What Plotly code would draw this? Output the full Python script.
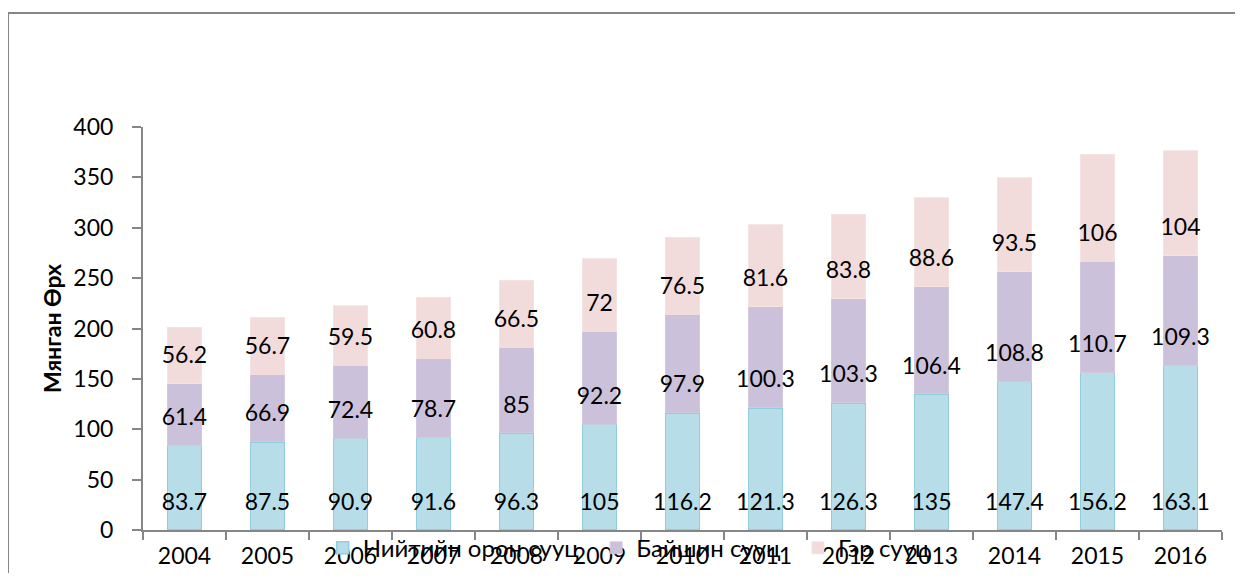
import plotly.graph_objects as go

# Өгөгдөл
years = ["2004", "2005", "2006", "2007", "2008", "2009", "2010",
         "2011", "2012", "2013", "2014", "2015", "2016"]
public_apts = [83.7, 87.5, 90.9, 91.6, 96.3, 105, 116.2, 121.3, 126.3, 135, 147.4, 156.2, 163.1]
houses = [61.4, 66.9, 72.4, 78.7, 85, 92.2, 97.9, 100.3, 103.3, 106.4, 108.8, 110.7, 109.3]
gers = [56.2, 56.7, 59.5, 60.8, 66.5, 72, 76.5, 81.6, 83.8, 88.6, 93.5, 106, 104]

series_names = ["Нийтийн орон сууц", "Байшин сууц", "Гэр сууц"]
y_ticks = [0, 50, 100, 150, 200, 250, 300, 350, 400]

FONT = "Lato, 'Noto Sans', sans-serif"
AXIS_COLOR = "#868686"
fills = ["#B7DDE8", "#CCC1DA", "#F2DCDB"]
edges = ["#93CDDD", "#D3CAE0", "#F5E3E2"]
edge_w = [1.5, 0.8, 0.8]

# label sits a fixed distance above the base of each segment ("inside base")
LABEL_OFFSET = 26

fig = go.Figure()

base = [0.0] * len(years)
for i, (name, vals, fc, ec, ew) in enumerate(zip(series_names, [public_apts, houses, gers], fills, edges, edge_w)):
    # a bit of extra room after each legend entry, like the source
    pad = "\u00a0\u00a0" if i < len(series_names) - 1 else ""
    fig.add_trace(go.Bar(
        x=years, y=vals, name=name + pad,
        marker=dict(color=fc, line=dict(color=ec, width=ew)),
    ))
    fig.add_trace(go.Scatter(
        x=years, y=[b + LABEL_OFFSET for b in base], mode="text",
        text=[f"{v:g}" for v in vals], textposition="middle center",
        textfont=dict(family=FONT, size=23, color="black"),
        showlegend=False, hoverinfo="skip", cliponaxis=False,
    ))
    base = [b + v for b, v in zip(base, vals)]

# frame around the chart (runs off the right/bottom edge like the source)
fig.add_shape(type="rect", xref="paper", yref="paper",
              x0=-0.1251, x1=1.06, y0=-0.3, y1=1.2829,
              line=dict(color=AXIS_COLOR, width=2), fillcolor="rgba(0,0,0,0)")

# page body adds an 8px margin, so the figure is a bit smaller than the window
fig.update_layout(
    width=1235, height=565,
    barmode="stack", bargap=0.59,
    plot_bgcolor="white", paper_bgcolor="white",
    margin=dict(l=135, r=21, t=119, b=43, autoexpand=False),
    font=dict(family=FONT, size=23, color="black"),
    showlegend=True,
    legend=dict(orientation="h", x=0.1665, xanchor="left", y=-0.045, yanchor="middle",
                bgcolor="rgba(0,0,0,0)", font=dict(family=FONT, size=24),
                traceorder="normal"),
)

fig.update_xaxes(
    type="category", range=[-0.5, len(years) - 0.5],
    showline=True, linecolor=AXIS_COLOR, linewidth=2, automargin=False,
    ticks="outside", tickson="boundaries", ticklen=8, tickcolor=AXIS_COLOR, tickwidth=2,
    showgrid=False, tickfont=dict(family=FONT, size=23), ticklabelstandoff=4,
)
fig.update_yaxes(
    range=[0, 400], tickvals=y_ticks, showline=True, linecolor=AXIS_COLOR, linewidth=2,
    automargin=False,
    ticks="outside", ticklen=9, tickcolor=AXIS_COLOR, tickwidth=2,
    showgrid=False, zeroline=False, tickfont=dict(family=FONT, size=23), ticklabelstandoff=14,
    title=dict(text="<b>Мянган Өрх</b>", font=dict(family=FONT, size=23), standoff=5),
)

fig.write_html("out.html")
